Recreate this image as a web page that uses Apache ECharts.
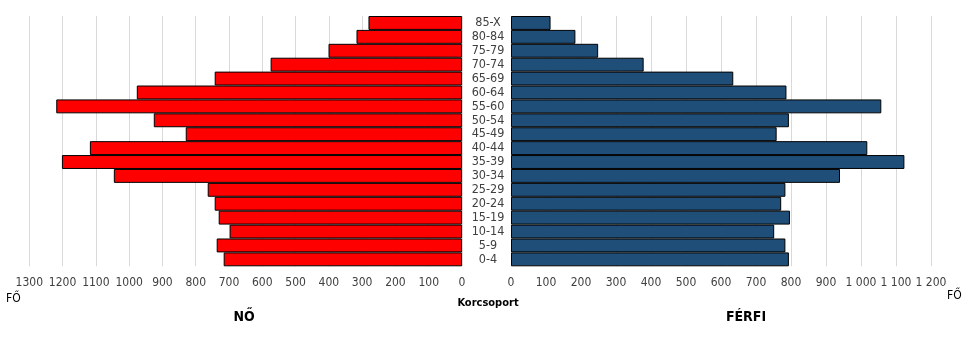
<!DOCTYPE html>
<html>
<head>
<meta charset="utf-8">
<script src="https://cdn.jsdelivr.net/npm/echarts@6/dist/echarts.min.js"></script>
<style>
html,body{margin:0;padding:0;background:#fff;}
#c{width:975px;height:356px;}
</style>
</head>
<body>
<div id="c"></div>
<script>
// Age groups, bottom to top
const categories = ['0-4','5-9','10-14','15-19','20-24','25-29','30-34','35-39','40-44','45-49','50-54','55-60','60-64','65-69','70-74','75-79','80-84','85-X'];
// Female (NŐ) counts
const female = [716, 737, 698, 731, 743, 764, 1046, 1202, 1118, 830, 926, 1219, 977, 743, 575, 401, 317, 281];
// Male (FÉRFI) counts
const male = [794, 784, 752, 797, 772, 784, 940, 1124, 1018, 759, 794, 1058, 787, 635, 379, 249, 184, 113];
// Axis ranges / ticks
const femaleMax = 1300;
const maleMax = 1200;
const tickStep = 100;

const FONT = "'Liberation Sans Narrow', 'Arial Narrow', 'DejaVu Sans Condensed', sans-serif";
const chart = echarts.init(document.getElementById('c'));

const gridTop = 16, gridH = 250.3;

function fmtSpace(v){
  return String(v).replace(/\B(?=(\d{3})+(?!\d))/g, ' ');
}
function fmtPlain(v){
  return String(v);
}

chart.setOption({
  animation: false,
  backgroundColor: '#fff',
  grid: [
    {left: 29.3, top: gridTop, width: 432.7, height: gridH},
    {left: 511, top: gridTop, width: 420, height: gridH}
  ],
  xAxis: [
    {
      gridIndex: 0, type: 'value', inverse: true, min: 0, max: femaleMax, interval: tickStep,
      axisLine: {show: false}, axisTick: {show: false},
      splitLine: {show: true, lineStyle: {color: '#d9d9d9', width: 1}},
      axisLabel: {fontFamily: FONT, fontSize: 12, color: '#404040', margin: 11, formatter: fmtPlain}
    },
    {
      gridIndex: 1, type: 'value', min: 0, max: maleMax, interval: tickStep,
      axisLine: {show: false}, axisTick: {show: false},
      splitLine: {show: true, lineStyle: {color: '#d9d9d9', width: 1}},
      axisLabel: {fontFamily: FONT, fontSize: 12, color: '#404040', margin: 11, formatter: fmtSpace}
    }
  ],
  yAxis: [
    {
      gridIndex: 0, type: 'category', data: categories, position: 'right',
      axisLine: {show: false}, axisTick: {show: false}, axisLabel: {show: false}
    },
    {
      gridIndex: 1, type: 'category', data: categories, position: 'left',
      axisLine: {show: false}, axisTick: {show: false},
      axisLabel: {fontFamily: FONT, fontSize: 12.5, color: '#404040', align: 'center', margin: 23, interval: 0}
    }
  ],
  series: [
    {
      name: 'NŐ', type: 'bar', xAxisIndex: 0, yAxisIndex: 0, data: female,
      barCategoryGap: '0%',
      itemStyle: {color: '#ff0000', borderColor: '#000', borderWidth: 1}
    },
    {
      name: 'FÉRFI', type: 'bar', xAxisIndex: 1, yAxisIndex: 1, data: male,
      barCategoryGap: '0%',
      itemStyle: {color: '#1f4e79', borderColor: '#000', borderWidth: 1}
    }
  ],
  graphic: [
    {type: 'text', left: 6, top: 293, style: {text: 'FŐ', font: '12px ' + FONT, fill: '#000'}},
    {type: 'text', left: 947, top: 290, style: {text: 'FŐ', font: '12px ' + FONT, fill: '#000'}},
    {type: 'text', x: 488, y: 303, style: {text: 'Korcsoport', font: 'bold 11px ' + FONT, fill: '#000', align: 'center', verticalAlign: 'middle'}},
    {type: 'text', x: 244, y: 317, style: {text: 'NŐ', font: 'bold 14px ' + FONT, fill: '#000', align: 'center', verticalAlign: 'middle'}},
    {type: 'text', x: 746, y: 317, style: {text: 'FÉRFI', font: 'bold 14px ' + FONT, fill: '#000', align: 'center', verticalAlign: 'middle'}}
  ]
});
</script>
</body>
</html>
